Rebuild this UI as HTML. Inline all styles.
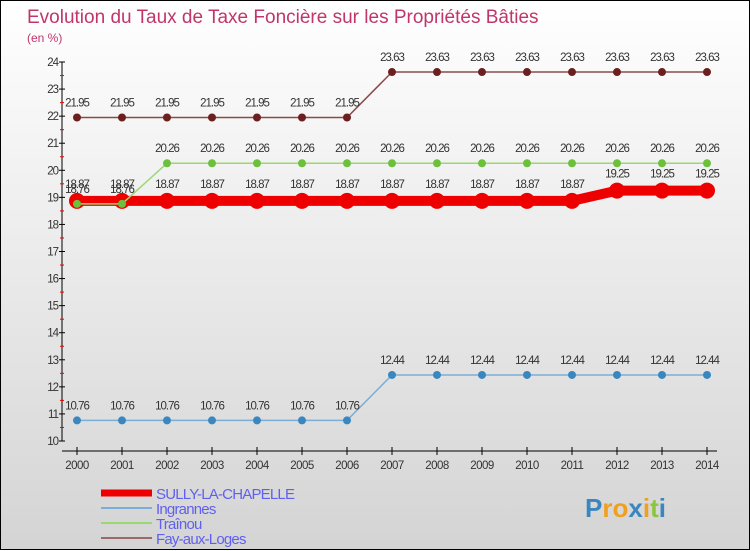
<!DOCTYPE html>
<html><head><meta charset="utf-8"><style>
html,body{margin:0;padding:0}
body{width:750px;height:550px;overflow:hidden;font-family:"Liberation Sans",sans-serif}
#wrap{position:relative;width:748px;height:548px;border:1px solid #000;background:linear-gradient(#ffffff,#d4d4d4)}
svg{position:absolute;left:0;top:0}
</style></head><body>
<div id="wrap">
<svg id="chart" width="750" height="550"></svg>
</div>
<script>
const years=[2000,2001,2002,2003,2004,2005,2006,2007,2008,2009,2010,2011,2012,2013,2014];
const sully=[18.87,18.87,18.87,18.87,18.87,18.87,18.87,18.87,18.87,18.87,18.87,18.87,19.25,19.25,19.25];
const ingrannes=[10.76,10.76,10.76,10.76,10.76,10.76,10.76,12.44,12.44,12.44,12.44,12.44,12.44,12.44,12.44];
const trainou=[18.76,18.76,20.26,20.26,20.26,20.26,20.26,20.26,20.26,20.26,20.26,20.26,20.26,20.26,20.26];
const fay=[21.95,21.95,21.95,21.95,21.95,21.95,21.95,23.63,23.63,23.63,23.63,23.63,23.63,23.63,23.63];
const yTicks=[10,11,12,13,14,15,16,17,18,19,20,21,22,23,24];
const seriesNames=["SULLY-LA-CHAPELLE","Ingrannes","Traînou","Fay-aux-Loges"];

const NS="http://www.w3.org/2000/svg";
const svg=document.getElementById('chart');
function X(i){return 76+i*45;}
function Y(v){return 440-(v-10)*(379/14);}
function mk(tag,attrs,parent){const e=document.createElementNS(NS,tag);for(const k in attrs)e.setAttribute(k,attrs[k]);(parent||svg).appendChild(e);return e;}
function txt(x,y,s,attrs){const t=mk('text',Object.assign({x:x,y:y},attrs));t.textContent=s;return t;}

const title=txt(26,22,"Evolution du Taux de Taxe Foncière sur les Propriétés Bâties",{fill:"#c0366a","font-size":"19"});


const sub=txt(26,41,"(en %)",{fill:"#c0366a","font-size":"12"});



const ax=mk('g',{});


mk('line',{x1:61,y1:Y(24),x2:61,y2:Y(10),stroke:"#000","stroke-width":1},ax);
mk('line',{x1:61,y1:450,x2:716,y2:450,stroke:"#000","stroke-width":1},ax);
yTicks.forEach(v=>{
  mk('line',{x1:58,y1:Y(v),x2:64,y2:Y(v),stroke:"#000"},ax);
  if(v<24) mk('line',{x1:59,y1:Y(v+0.5),x2:63,y2:Y(v+0.5),stroke:"#e00"},ax);
  const t=txt(57,Y(v)+4,String(v),{fill:"#333","font-size":"11.5","text-anchor":"end","letter-spacing":"-1"});
  
  
});
years.forEach((yr,i)=>{
  mk('line',{x1:X(i),y1:446,x2:X(i),y2:454,stroke:"#000"},ax);
  const t=txt(X(i),468,String(yr),{fill:"#333","font-size":"11.5","text-anchor":"middle","letter-spacing":"-0.5"});
  
  
});

function series(vals,color,lw,r,dot,name,labelDy){
  const g=mk('g',{});
  
  
  mk('polyline',{points:vals.map((v,i)=>X(i)+","+Y(v)).join(" "),fill:"none",stroke:color,"stroke-width":lw},g);
  vals.forEach((v,i)=>{
    const c=mk('circle',{cx:X(i),cy:Y(v),r:r,fill:dot},g);
    
    
    const t=txt(X(i),Y(v)+labelDy,String(v),{fill:"#333","font-size":"11.5","text-anchor":"middle","letter-spacing":"-1"},g);
    g.appendChild(t);
    
    
  });
}
series(fay,"#8b4a4a",1.5,4,"#6b1f1f","series-fay-aux-loges",-11);
series(ingrannes,"#7aaed6",1.5,4,"#3a87c0","series-ingrannes",-11);
series(sully,"#ee0000",10,8,"#ee0000","series-sully-la-chapelle",-13);
series(trainou,"#9ad870",1.5,4,"#6cc03c","series-trainou",-11);

const colors=["#ee0000","#7aaed6","#9ad870","#9a6a6a"];
const widths=[7,2,2,2];
seriesNames.forEach((n,i)=>{
  const g=mk('g',{});
  
  
  const y=492+i*15;
  mk('line',{x1:100,y1:y,x2:151,y2:y,stroke:colors[i],"stroke-width":widths[i]},g);
  const t=txt(155,y+6,n,{fill:"#6060f0","font-size":"15","letter-spacing":"-0.8"});
  g.appendChild(t);
});

const logo=txt(584,516,"",{"font-size":"26","font-weight":"bold"});


[["P","#3a87c0"],["r","#f0a020"],["o","#f0a020"],["x","#3a87c0"],["i","#f0a020"],["t","#8cc63f"],["i","#3a87c0"]].forEach(([c,col])=>{
  const s=document.createElementNS(NS,'tspan');s.setAttribute('fill',col);s.textContent=c;logo.appendChild(s);
});
</script>
</body></html>
